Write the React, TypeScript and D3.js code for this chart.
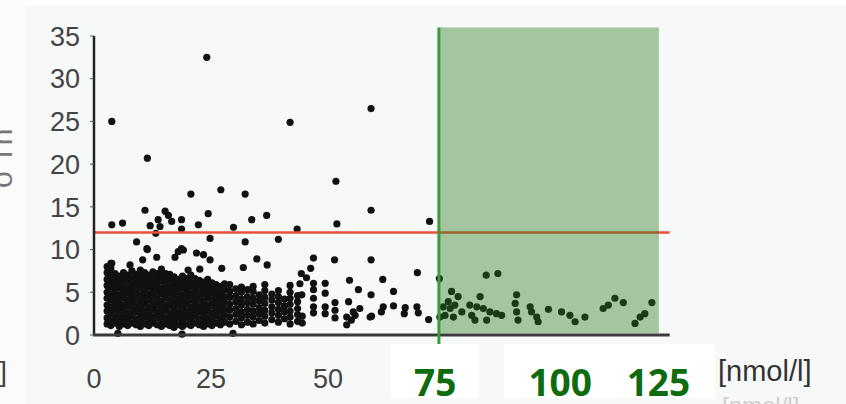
import * as d3 from "d3";

// values (x: nmol/l, y: score)
const X_TICKS = [0, 25, 50];
const Y_TICKS = [0, 5, 10, 15, 20, 25, 30, 35];
const THRESHOLD = 12;
const TARGET_FROM = 73.7;
const TARGET_TO = 120.7;
const TARGET_LABELS = ["75", "100", "125"];
const TARGET_LABEL_AT = [72.9, 99.6, 120.6];
const UNIT = "[nmol/l]";

// single points
const SCATTER: [number, number][] = [
  [3.8, 25.0], [11.4, 20.7], [24.1, 32.5], [20.7, 16.5], [27.1, 17.0], [32.3, 16.5], [41.9, 24.9],
  [51.7, 18.0], [59.2, 26.5], [10.9, 14.6], [15.2, 14.5], [3.8, 12.9], [6.1, 13.1], [12.0, 12.8],
  [13.7, 13.5], [15.9, 14.0], [16.6, 13.3], [18.7, 13.5], [14.1, 12.7], [18.7, 12.4], [22.3, 12.9],
  [24.4, 14.2], [29.8, 12.6], [33.7, 13.5], [36.9, 14.0], [59.2, 14.6], [51.9, 13.0], [43.4, 12.4],
  [71.7, 13.3], [9.1, 10.9], [11.3, 10.1], [13.2, 11.9], [24.8, 11.3], [32.3, 10.9], [39.4, 11.2],
  [18.7, 10.1], [11.4, 10.0], [10.4, 8.8], [7.7, 8.2], [3.8, 8.4], [13.4, 9.1], [17.3, 9.1],
  [18.0, 9.75], [19.1, 9.95], [21.9, 9.6], [23.4, 9.4], [24.8, 8.8], [27.3, 7.8], [20.1, 7.6],
  [22.6, 7.7], [34.8, 8.9], [31.9, 7.9], [37.0, 8.2], [51.4, 8.8], [59.2, 8.8], [46.9, 9.0],
  [46.3, 7.8], [44.3, 7.2], [45.4, 6.7], [44.0, 6.0], [69.1, 7.3], [54.6, 6.4], [61.7, 6.5],
  [41.9, 5.8], [49.4, 6.05], [46.9, 6.05], [49.4, 4.9], [56.5, 5.3], [64.0, 5.1], [59.2, 4.7],
  [54.4, 3.9], [51.5, 3.8], [51.5, 2.9], [51.5, 2.0], [49.4, 2.5], [49.4, 3.3], [54.0, 2.1],
  [54.0, 1.2], [55.4, 2.7], [56.8, 3.1], [59.3, 2.2], [61.8, 3.3], [64.0, 3.4], [66.5, 3.2],
  [66.3, 2.5], [69.0, 3.3], [69.3, 2.6], [71.5, 1.8], [46.9, 5.3], [44.4, 4.7], [61.4, 2.7],
  [59.0, 2.1], [55.8, 2.3], [55.0, 1.75], [46.9, 3.3], [46.9, 4.3], [46.9, 2.6],
  [5.1, 0.2], [18.8, 0.1], [29.7, 0.2],
  // inside the target range
  [73.8, 6.6], [83.8, 7.0], [86.3, 7.2], [76.4, 5.1], [77.8, 4.5], [82.5, 4.5], [90.3, 4.7],
  [90.0, 3.7], [74.6, 3.3], [76.1, 3.1], [77.1, 3.5], [78.6, 2.7], [80.3, 3.5], [81.8, 3.3],
  [83.2, 3.1], [84.6, 2.7], [86.0, 2.5], [87.1, 2.3], [75.0, 2.3], [76.8, 2.1], [80.7, 2.3],
  [81.4, 1.75], [83.9, 1.75], [90.3, 2.7], [90.6, 1.75], [93.2, 3.3], [93.5, 2.7], [94.6, 2.1],
  [94.9, 1.55], [97.1, 3.0], [99.9, 2.7], [101.7, 2.3], [102.8, 1.55], [104.9, 2.1], [108.8, 3.1],
  [109.9, 3.5], [111.3, 4.3], [113.1, 3.8], [115.6, 1.35], [116.7, 2.1], [117.7, 2.5], [119.2, 3.8],
  [75.7, 3.9], [73.9, 2.1],
];

// dense low range, one entry per column: [x, y values]
const CLUSTER: [number, number[]][] = [
  [2.8, [1.3, 2.0, 2.8, 3.5, 4.3, 5.0, 5.8, 6.5, 7.3, 8.0]],
  [3.6, [1.1, 1.8, 2.6, 3.3, 4.1, 4.8, 5.6, 6.3, 7.1, 7.8, 8.4]],
  [4.5, [1.4, 2.1, 2.9, 3.6, 4.4, 5.1, 5.9, 6.6, 7.2]],
  [5.4, [1.0, 1.7, 2.5, 3.2, 4.0, 4.7, 5.5, 6.2, 6.9]],
  [6.3, [1.3, 2.0, 2.8, 3.5, 4.3, 5.0, 5.8, 6.5, 7.3]],
  [7.2, [1.1, 1.9, 2.6, 3.4, 4.1, 4.9, 5.6, 6.4, 7.0]],
  [8.1, [1.4, 2.2, 2.9, 3.7, 4.4, 5.2, 5.9, 6.7, 7.5]],
  [9.0, [1.2, 1.9, 2.7, 3.4, 4.2, 4.9, 5.7, 6.4, 7.1]],
  [9.9, [1.0, 1.7, 2.5, 3.2, 4.0, 4.7, 5.5, 6.2, 6.9, 7.6]],
  [10.8, [1.3, 2.1, 2.8, 3.6, 4.3, 5.1, 5.8, 6.6, 7.3]],
  [11.7, [1.1, 1.8, 2.6, 3.3, 4.1, 4.8, 5.6, 6.3, 7.0]],
  [12.6, [1.4, 2.1, 2.9, 3.6, 4.4, 5.1, 5.9, 6.6, 7.4]],
  [13.5, [1.2, 2.0, 2.7, 3.5, 4.2, 5.0, 5.7, 6.5, 7.2]],
  [14.4, [1.0, 1.8, 2.5, 3.3, 4.0, 4.8, 5.5, 6.3, 7.0, 7.7]],
  [15.3, [1.3, 2.0, 2.8, 3.5, 4.3, 5.0, 5.8, 6.5, 7.2]],
  [16.2, [1.1, 1.9, 2.6, 3.4, 4.1, 4.9, 5.6, 6.4, 7.1]],
  [17.1, [0.9, 1.6, 2.4, 3.1, 3.9, 4.6, 5.4, 6.1, 6.8]],
  [18.0, [1.2, 2.0, 2.7, 3.5, 4.2, 5.0, 5.7, 6.5]],
  [18.9, [1.0, 1.7, 2.5, 3.2, 4.0, 4.7, 5.5, 6.2, 6.9]],
  [19.8, [1.3, 2.1, 2.8, 3.6, 4.3, 5.1, 5.8, 6.6]],
  [20.7, [1.1, 1.8, 2.6, 3.3, 4.1, 4.8, 5.6, 6.3, 7.0]],
  [21.6, [1.4, 2.2, 2.9, 3.7, 4.4, 5.2, 5.9, 6.6]],
  [22.5, [1.2, 1.9, 2.7, 3.4, 4.2, 4.9, 5.7, 6.4]],
  [23.4, [1.0, 1.8, 2.5, 3.3, 4.0, 4.8, 5.5, 6.2]],
  [24.3, [1.3, 2.0, 2.8, 3.5, 4.3, 5.0, 5.8, 6.5]],
  [25.2, [1.1, 1.9, 2.6, 3.4, 4.1, 4.9, 5.6, 6.1]],
  [26.1, [1.4, 2.2, 2.9, 3.7, 4.4, 5.2, 5.9]],
  [27.0, [1.2, 1.9, 2.7, 3.4, 4.2, 4.9, 5.7]],
  [27.9, [1.5, 2.3, 3.0, 3.8, 4.5, 5.3, 6.0]],
  [29.0, [1.3, 2.1, 2.9, 3.6, 4.4, 5.1, 5.9]],
  [30.3, [1.6, 2.4, 3.1, 3.9, 4.6, 5.4]],
  [31.5, [1.2, 2.0, 2.7, 3.5, 4.2, 5.0, 5.6]],
  [32.8, [1.5, 2.3, 3.0, 3.8, 4.5, 5.3]],
  [34.0, [1.3, 2.1, 2.8, 3.6, 4.3, 5.1, 5.7]],
  [35.3, [1.7, 2.5, 3.2, 4.0, 4.7]],
  [36.5, [1.4, 2.2, 2.9, 3.7, 4.4, 5.2, 5.9]],
  [38.0, [1.8, 2.6, 3.3, 4.1, 4.8]],
  [39.4, [1.5, 2.3, 3.0, 3.8, 4.5, 5.2]],
  [40.7, [1.9, 2.7, 3.4, 4.2]],
  [41.9, [1.3, 2.1, 2.8, 3.6, 4.3, 5.0]],
  [43.5, [1.6, 2.4, 3.1, 3.9, 4.6]],
  [44.5, [1.4, 2.2]],
];

const W = 846;
const H = 404;
const FONT = "'Liberation Sans', Arial, sans-serif";

export default function App() {
  const x = d3.scaleLinear().domain([0, 125]).range([94, 679]);
  const y = d3.scaleLinear().domain([0, 35]).range([335, 36]);

  const points: [number, number][] = [
    ...CLUSTER.flatMap(([cx, ys]) => ys.map((v) => [cx, v] as [number, number])),
    ...SCATTER,
  ];

  const axisEnd = 123;
  const boxTop = y(-1.05);

  return (
    <svg
      width={W}
      height={H}
      style={{ position: "absolute", left: 0, top: 0, display: "block" }}
    >
      <rect width={W} height={H} fill="#f7f8f8" />
      <rect width={W} height={5} fill="#ffffff" />
      <rect width={25} height={H} fill="#fbfbfb" />

      {/* clipped bits of the neighbouring panel */}
      <text
        transform="translate(12,188) rotate(-90)"
        fontFamily={FONT}
        fontSize={30}
        fill="#777"
      >
        o Th
      </text>
      <text x={7} y={381} textAnchor="end" fontFamily={FONT} fontSize={28} fill="#444">
        ]
      </text>

      {points.map(([px, py], i) => (
        <circle key={i} cx={x(px)} cy={y(py)} r={3.6} fill="#111" />
      ))}

      <line
        x1={x(0)}
        x2={x(axisEnd)}
        y1={y(THRESHOLD)}
        y2={y(THRESHOLD)}
        stroke="#e8503a"
        strokeWidth={2.5}
      />

      <rect
        x={x(TARGET_FROM)}
        y={y(36)}
        width={x(TARGET_TO) - x(TARGET_FROM)}
        height={y(0.2) - y(36)}
        fill="#257b1c"
        fillOpacity={0.4}
      />

      {/* axes */}
      <line x1={x(0)} x2={x(0)} y1={y(35)} y2={y(0)} stroke="#222" strokeWidth={2.5} />
      <line x1={x(0) - 1} x2={x(axisEnd)} y1={y(0)} y2={y(0)} stroke="#3a3a3a" strokeWidth={3} />
      {Y_TICKS.map((t) => (
        <g key={t}>
          <line x1={x(0) - 4} x2={x(0)} y1={y(t)} y2={y(t)} stroke="#555" strokeWidth={1} />
          <text
            x={80}
            y={y(t)}
            dy="0.36em"
            textAnchor="end"
            fontFamily={FONT}
            fontSize={27}
            fill="#444"
          >
            {t}
          </text>
        </g>
      ))}
      {X_TICKS.map((t) => (
        <text
          key={t}
          x={x(t)}
          y={388}
          textAnchor="middle"
          fontFamily={FONT}
          fontSize={27}
          fill="#444"
        >
          {t}
        </text>
      ))}

      <line
        x1={x(TARGET_FROM)}
        x2={x(TARGET_FROM)}
        y1={y(36)}
        y2={y(-1.2)}
        stroke="#3d9b3d"
        strokeWidth={3}
      />

      {/* pasted-on target labels */}
      <rect x={x(63.4)} y={boxTop} width={x(82.2) - x(63.4)} height={398 - boxTop} fill="#ffffff" />
      <rect x={x(87.6)} y={boxTop} width={x(132.7) - x(87.6)} height={398 - boxTop} fill="#ffffff" />
      {TARGET_LABELS.map((l, i) => (
        <text
          key={l}
          x={x(TARGET_LABEL_AT[i])}
          y={396}
          textAnchor="middle"
          fontFamily="'Open Sans', sans-serif"
          fontWeight={700}
          fontSize={37}
          fill="#0e6b0e"
        >
          {l}
        </text>
      ))}

      <text x={718} y={381} fontFamily={FONT} fontSize={29} fill="#333">
        {UNIT}
      </text>
      <text x={722} y={414} fontFamily={FONT} fontSize={24} fill="#cfcfcf">
        {UNIT}
      </text>
    </svg>
  );
}
